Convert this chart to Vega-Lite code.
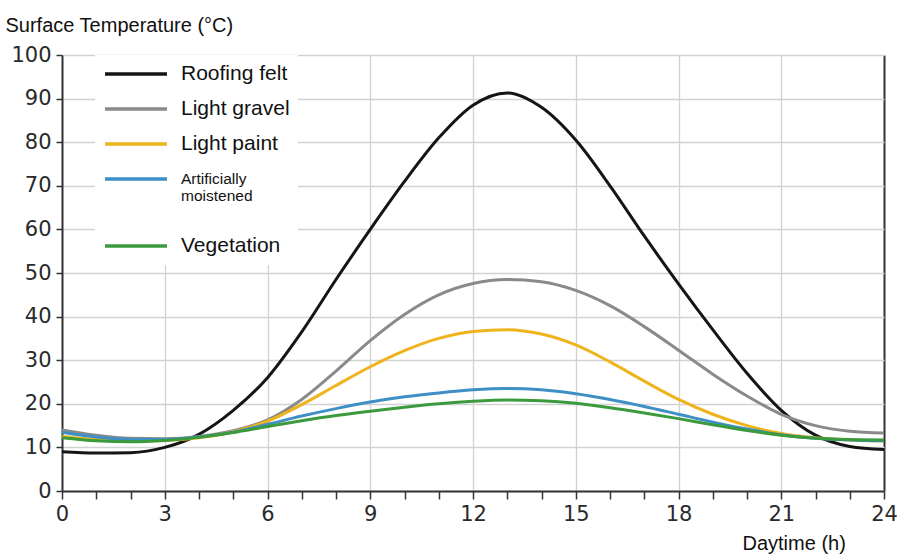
{
  "$schema": "https://vega.github.io/schema/vega-lite/v6.json",
  "width": 822,
  "height": 436,
  "autosize": {"type": "none"},
  "padding": {"left": 62, "top": 55, "right": 13, "bottom": 64},
  "background": "white",
  "config": {"view": {"stroke": null}, "font": "Liberation Sans"},
  "data": {"values": [
    {"hour":0,"material":"Roofing felt","temp":9},{"hour":1,"material":"Roofing felt","temp":8.7},{"hour":2,"material":"Roofing felt","temp":8.8},{"hour":3,"material":"Roofing felt","temp":10},{"hour":4,"material":"Roofing felt","temp":13},{"hour":5,"material":"Roofing felt","temp":18.5},{"hour":6,"material":"Roofing felt","temp":26},{"hour":7,"material":"Roofing felt","temp":36.5},{"hour":8,"material":"Roofing felt","temp":48.5},{"hour":9,"material":"Roofing felt","temp":60},{"hour":10,"material":"Roofing felt","temp":71},{"hour":11,"material":"Roofing felt","temp":81},{"hour":12,"material":"Roofing felt","temp":88.5},{"hour":13,"material":"Roofing felt","temp":91.3},{"hour":14,"material":"Roofing felt","temp":88},{"hour":15,"material":"Roofing felt","temp":80.5},{"hour":16,"material":"Roofing felt","temp":70},{"hour":17,"material":"Roofing felt","temp":58.5},{"hour":18,"material":"Roofing felt","temp":47.5},{"hour":19,"material":"Roofing felt","temp":37},{"hour":20,"material":"Roofing felt","temp":27},{"hour":21,"material":"Roofing felt","temp":18.5},{"hour":22,"material":"Roofing felt","temp":12.8},{"hour":23,"material":"Roofing felt","temp":10.2},{"hour":24,"material":"Roofing felt","temp":9.5},
    {"hour":0,"material":"Light gravel","temp":14},{"hour":1,"material":"Light gravel","temp":12.8},{"hour":2,"material":"Light gravel","temp":12.1},{"hour":3,"material":"Light gravel","temp":12},{"hour":4,"material":"Light gravel","temp":12.5},{"hour":5,"material":"Light gravel","temp":13.8},{"hour":6,"material":"Light gravel","temp":16.3},{"hour":7,"material":"Light gravel","temp":21},{"hour":8,"material":"Light gravel","temp":27.5},{"hour":9,"material":"Light gravel","temp":34.5},{"hour":10,"material":"Light gravel","temp":40.5},{"hour":11,"material":"Light gravel","temp":45},{"hour":12,"material":"Light gravel","temp":47.6},{"hour":13,"material":"Light gravel","temp":48.5},{"hour":14,"material":"Light gravel","temp":48},{"hour":15,"material":"Light gravel","temp":46},{"hour":16,"material":"Light gravel","temp":42.5},{"hour":17,"material":"Light gravel","temp":37.7},{"hour":18,"material":"Light gravel","temp":32.3},{"hour":19,"material":"Light gravel","temp":26.8},{"hour":20,"material":"Light gravel","temp":21.8},{"hour":21,"material":"Light gravel","temp":17.6},{"hour":22,"material":"Light gravel","temp":15},{"hour":23,"material":"Light gravel","temp":13.7},{"hour":24,"material":"Light gravel","temp":13.3},
    {"hour":0,"material":"Light paint","temp":12.5},{"hour":1,"material":"Light paint","temp":11.8},{"hour":2,"material":"Light paint","temp":11.5},{"hour":3,"material":"Light paint","temp":11.6},{"hour":4,"material":"Light paint","temp":12.2},{"hour":5,"material":"Light paint","temp":13.6},{"hour":6,"material":"Light paint","temp":16},{"hour":7,"material":"Light paint","temp":19.8},{"hour":8,"material":"Light paint","temp":24.2},{"hour":9,"material":"Light paint","temp":28.5},{"hour":10,"material":"Light paint","temp":32.2},{"hour":11,"material":"Light paint","temp":35},{"hour":12,"material":"Light paint","temp":36.6},{"hour":13,"material":"Light paint","temp":37},{"hour":14,"material":"Light paint","temp":36},{"hour":15,"material":"Light paint","temp":33.5},{"hour":16,"material":"Light paint","temp":29.6},{"hour":17,"material":"Light paint","temp":25.2},{"hour":18,"material":"Light paint","temp":21},{"hour":19,"material":"Light paint","temp":17.6},{"hour":20,"material":"Light paint","temp":15},{"hour":21,"material":"Light paint","temp":13.2},{"hour":22,"material":"Light paint","temp":12.2},{"hour":23,"material":"Light paint","temp":11.7},{"hour":24,"material":"Light paint","temp":11.5},
    {"hour":0,"material":"Artificially moistened","temp":13.5},{"hour":1,"material":"Artificially moistened","temp":12.4},{"hour":2,"material":"Artificially moistened","temp":11.8},{"hour":3,"material":"Artificially moistened","temp":11.8},{"hour":4,"material":"Artificially moistened","temp":12.4},{"hour":5,"material":"Artificially moistened","temp":13.5},{"hour":6,"material":"Artificially moistened","temp":15.3},{"hour":7,"material":"Artificially moistened","temp":17.2},{"hour":8,"material":"Artificially moistened","temp":18.9},{"hour":9,"material":"Artificially moistened","temp":20.4},{"hour":10,"material":"Artificially moistened","temp":21.6},{"hour":11,"material":"Artificially moistened","temp":22.5},{"hour":12,"material":"Artificially moistened","temp":23.2},{"hour":13,"material":"Artificially moistened","temp":23.5},{"hour":14,"material":"Artificially moistened","temp":23.2},{"hour":15,"material":"Artificially moistened","temp":22.3},{"hour":16,"material":"Artificially moistened","temp":21},{"hour":17,"material":"Artificially moistened","temp":19.4},{"hour":18,"material":"Artificially moistened","temp":17.6},{"hour":19,"material":"Artificially moistened","temp":15.8},{"hour":20,"material":"Artificially moistened","temp":14.2},{"hour":21,"material":"Artificially moistened","temp":12.9},{"hour":22,"material":"Artificially moistened","temp":12.1},{"hour":23,"material":"Artificially moistened","temp":11.7},{"hour":24,"material":"Artificially moistened","temp":11.5},
    {"hour":0,"material":"Vegetation","temp":12.2},{"hour":1,"material":"Vegetation","temp":11.5},{"hour":2,"material":"Vegetation","temp":11.3},{"hour":3,"material":"Vegetation","temp":11.6},{"hour":4,"material":"Vegetation","temp":12.3},{"hour":5,"material":"Vegetation","temp":13.4},{"hour":6,"material":"Vegetation","temp":14.8},{"hour":7,"material":"Vegetation","temp":16.1},{"hour":8,"material":"Vegetation","temp":17.3},{"hour":9,"material":"Vegetation","temp":18.3},{"hour":10,"material":"Vegetation","temp":19.2},{"hour":11,"material":"Vegetation","temp":20},{"hour":12,"material":"Vegetation","temp":20.6},{"hour":13,"material":"Vegetation","temp":20.9},{"hour":14,"material":"Vegetation","temp":20.7},{"hour":15,"material":"Vegetation","temp":20.1},{"hour":16,"material":"Vegetation","temp":19.1},{"hour":17,"material":"Vegetation","temp":17.9},{"hour":18,"material":"Vegetation","temp":16.6},{"hour":19,"material":"Vegetation","temp":15.2},{"hour":20,"material":"Vegetation","temp":13.9},{"hour":21,"material":"Vegetation","temp":12.8},{"hour":22,"material":"Vegetation","temp":12.1},{"hour":23,"material":"Vegetation","temp":11.8},{"hour":24,"material":"Vegetation","temp":11.7}
  ]},
  "mark": {"type": "line", "strokeWidth": 3, "interpolate": "monotone"},
  "encoding": {
    "x": {
      "field": "hour", "type": "quantitative",
      "scale": {"domain": [0, 24], "nice": false, "zero": false},
      "axis": {
        "values": [0,1,2,3,4,5,6,7,8,9,10,11,12,13,14,15,16,17,18,19,20,21,22,23,24],
        "labelExpr": "datum.value % 3 === 0 ? datum.label : ''",
        "labelOverlap": false,
        "labelFlush": false,
        "title": "Daytime (h)",
        "grid": true,
        "gridOpacity": {"condition": {"test": "datum.value % 3 === 0 && datum.value > 0", "value": 1}, "value": 0},
        "gridColor": {"condition": {"test": "datum.value === 24", "value": "#333333"}, "value": "#d2d2d2"},
        "gridWidth": {"condition": {"test": "datum.value === 24", "value": 2}, "value": 1.3},
        "domainColor": "#333333", "domainWidth": 2,
        "tickColor": "#333333", "tickSize": 8, "tickWidth": 1.5,
        "labelFont": "DejaVu Sans", "labelFontSize": 21, "labelColor": "#2a2a2a", "labelPadding": 4,
        "titleX": 680, "titleY": 58, "titleAlign": "left", "titleBaseline": "alphabetic",
        "titleFontSize": 20, "titleFontWeight": "normal", "titleColor": "#111111"
      }
    },
    "y": {
      "field": "temp", "type": "quantitative",
      "scale": {"domain": [0, 100], "nice": false},
      "axis": {
        "values": [0,10,20,30,40,50,60,70,80,90,100],
        "title": "Surface Temperature (°C)",
        "grid": true, "gridColor": "#d2d2d2", "gridWidth": 1.3,
        "domainColor": "#333333", "domainWidth": 2,
        "tickColor": "#333333", "tickSize": 6, "tickWidth": 1.5,
        "labelFont": "DejaVu Sans", "labelFontSize": 21, "labelColor": "#2a2a2a", "labelPadding": 5,
        "titleAngle": 0, "titleX": -57, "titleY": -24, "titleAlign": "left", "titleBaseline": "alphabetic",
        "titleFontSize": 20, "titleFontWeight": "normal", "titleColor": "#111111"
      }
    },
    "color": {
      "field": "material", "type": "nominal",
      "sort": ["Roofing felt", "Light gravel", "Light paint", "Artificially moistened", "Vegetation"],
      "scale": {
        "domain": ["Roofing felt", "Light gravel", "Light paint", "Artificially moistened", "Vegetation"],
        "range": ["#151515", "#8a8a8a", "#efb41c", "#3d8fc6", "#3a9a3c"]
      },
      "legend": {
        "orient": "none", "legendX": 33, "legendY": 0,
        "title": null, "fillColor": "white", "padding": 8,
        "symbolType": "stroke", "symbolSize": 3844, "symbolStrokeWidth": 3.5,
        "clipHeight": 22, "rowPadding": 13,
        "labelFontSize": 21, "labelOffset": 12, "labelColor": "#111111", "labelLimit": 300,
        "labelExpr": "datum.label === 'Artificially moistened' ? ['Artificially', 'moistened', ' '] : datum.label",
        "encode": {
          "legend": {
            "update": {"width": {"value": 278}}
          },
          "labels": {
            "update": {
              "fontSize": {"signal": "datum.label === 'Artificially moistened' ? 15.5 : 21"},
              "lineHeight": {"value": 17}
            }
          }
        }
      }
    },
    "order": {"field": "hour"}
  }
}
